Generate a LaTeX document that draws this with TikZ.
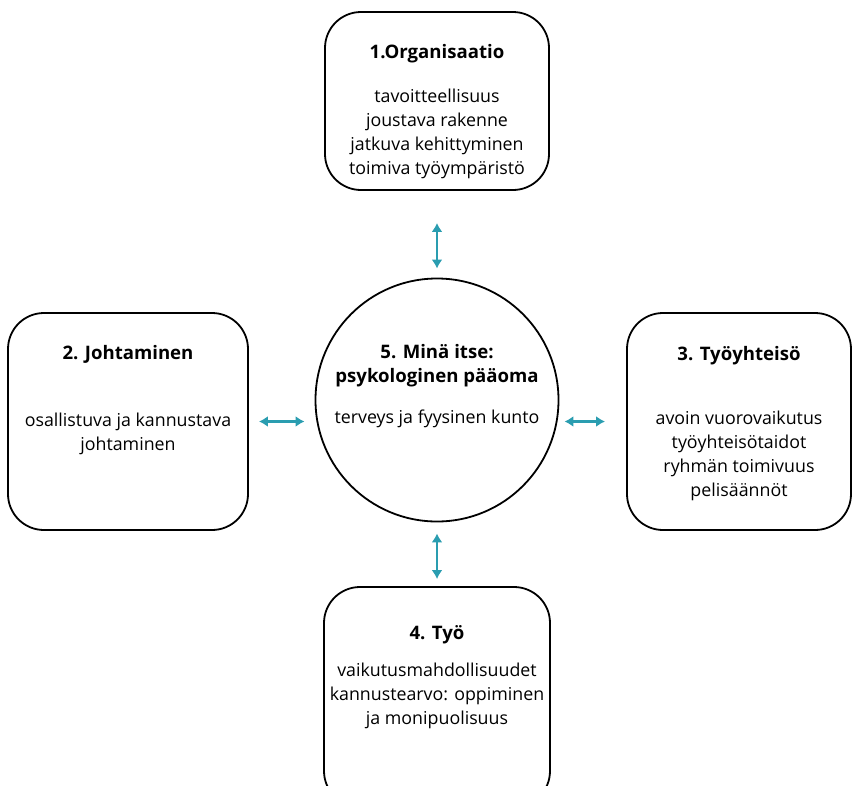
\documentclass[tikz,border=0pt]{standalone}
\usepackage{fontspec}
\setmainfont{Open Sans}
\usetikzlibrary{positioning,arrows.meta}
\definecolor{arrteal}{RGB}{42,157,176}
\newcommand{\boxtitle}[1]{{\fontsize{18.6}{24}\selectfont\bfseries#1}}

\begin{document}
\begin{tikzpicture}[x=1pt,y=-1pt,
    box/.style={draw,line width=1.8pt,rounded corners=36pt,inner sep=0pt},
    txt/.style={align=center,inner sep=0pt,anchor=north,font=\fontsize{17.8}{24}\selectfont},
    arr/.style={{Latex[length=9pt,width=11pt]}-{Latex[length=9pt,width=11pt]},arrteal,line width=2.4pt}]
  \useasboundingbox (0,0) rectangle (857,785);
  \clip (0,0) rectangle (857,785);
  % the four boxes and the circle
  \node[box,minimum width=224pt,minimum height=178pt] (org) at (437,101) {};
  \node[box,minimum width=240pt,minimum height=217pt] (johto) at (128,421.5) {};
  \node[box,minimum width=224pt,minimum height=217pt] (tyoy) at (739,421.5) {};
  \node[box,minimum width=226pt,minimum height=220pt] (tyo) at (437,697) {};
  \node[draw,circle,line width=1.8pt,minimum size=243pt,inner sep=0pt] (mina) at (437,400) {};
  % texts
  \node[txt,below=30pt of org.north] (orgtxt) {\strut\boxtitle{1.Organisaatio}\\[20pt]
    tavoitteellisuus\\ joustava rakenne\\ jatkuva kehittyminen\\ toimiva työympäristö};
  \node[txt,below=30pt of johto.north] (johtotxt) {\strut\boxtitle{2. Johtaminen}\\[43pt]
    osallistuva ja kannustava\\ johtaminen};
  \node[txt,below=31pt of tyoy.north] (tyoytxt) {\strut\boxtitle{3. Työyhteisö}\\[40pt]
    avoin vuorovaikutus\\ työyhteisötaidot\\ ryhmän toimivuus\\ pelisäännöt};
  \node[txt,below=36pt of tyo.north] (tyotxt) {\strut\boxtitle{4. Työ}\\[13pt]
    vaikutusmahdollisuudet\\ kannustearvo: oppiminen\\ ja monipuolisuus};
  \node[txt,below=64pt of mina.north] (minatxt) {\strut\boxtitle{5. Minä itse:}\\ \boxtitle{psykologinen pääoma}\\[17pt]
    terveys ja fyysinen kunto};
  % arrows
  \draw[arr,shorten <=32pt,shorten >=9pt] (org.south) -- (org.south |- mina.north);
  \draw[arr,shorten <=11pt,shorten >=7pt] (mina.south) -- (mina.south |- tyo.north);
  \draw[arr,shorten <=10pt,shorten >=10pt] (johto.east) -- (johto.east -| mina.west);
  \draw[arr,shorten <=21pt,shorten >=5pt] (tyoy.west) -- (tyoy.west -| mina.east);
\end{tikzpicture}
\end{document}
